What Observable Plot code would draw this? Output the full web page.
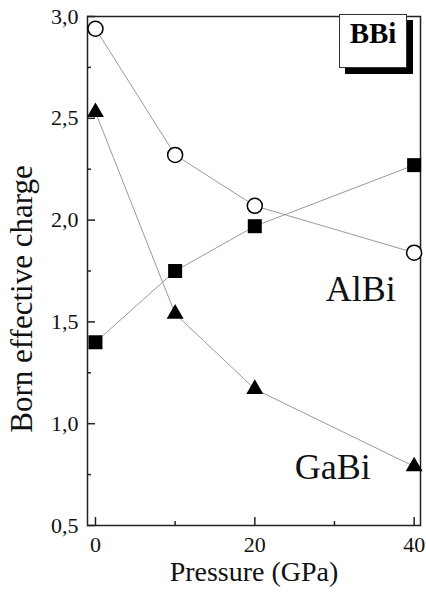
<!DOCTYPE html>
<html><head><meta charset="utf-8">
<script src="https://cdn.jsdelivr.net/npm/d3@7"></script>
<script src="https://cdn.jsdelivr.net/npm/@observablehq/plot@0.6"></script>
<style>
html,body{margin:0;padding:0;background:#fff;}
#wrap{position:relative;width:426px;height:592px;}
#badge{position:absolute;left:339px;top:14px;width:66px;height:50px;padding-top:2px;border:1px solid #333;background:#fff;box-shadow:6px 6px 0 #000;font:bold 29px "Liberation Serif","Times New Roman",serif;text-align:center;line-height:32px;color:#000;}
</style></head><body><div id="wrap"></div>
<script>
const pressure = [0, 10, 20, 40];
const circleValues = [2.94, 2.32, 2.07, 1.84];
const squareValues = [1.40, 1.75, 1.97, 2.27];
const triangleValues = [2.53, 1.54, 1.17, 0.79];
const yMajorTicks = [0.5, 1.0, 1.5, 2.0, 2.5, 3.0];
const yMinorTicks = [0.75, 1.25, 1.75, 2.25, 2.75];
const xMajorTicks = [0, 20, 40];
const xMinorTicks = [10, 30];
const labelText = ["AlBi", "GaBi"];
const labelX = [33.3, 29.8];
const labelY = [1.66, 0.787];
const xTitle = "Pressure (GPa)";
const yTitle = "Born effective charge";
const badgeText = "BBi";

const serif = '"Liberation Serif","Times New Roman",serif';
const series = [
  {name: "circle", values: circleValues},
  {name: "square", values: squareValues},
  {name: "triangle", values: triangleValues}
];
const rows = series.flatMap(s => pressure.map((p, i) => ({series: s.name, p, v: s.values[i]})));
const labels = labelText.map((t, i) => ({t, x: labelX[i], y: labelY[i]}));
const fmt = d => d.toFixed(1).replace(".", ",");
const ink = "#222";

const chart = Plot.plot({
  width: 426, height: 592,
  marginLeft: 87, marginRight: 6, marginTop: 16, marginBottom: 67,
  style: {fontFamily: serif, background: "#fff", color: "#000"},
  x: {domain: [-1, 40.8]},
  y: {domain: [0.5, 3.0]},
  marks: [
    Plot.axisY({ticks: yMajorTicks, tickSize: 8, dx: 8, fill: "none", stroke: ink, strokeWidth: 1.5, label: null}),
    Plot.axisY({ticks: yMinorTicks, tickSize: 4, dx: 4, fill: "none", stroke: ink, strokeWidth: 1.5, label: null}),
    Plot.axisX({ticks: xMajorTicks, tickSize: 8, dy: -8, fill: "none", stroke: ink, strokeWidth: 1.5, label: null}),
    Plot.axisX({ticks: xMinorTicks, tickSize: 4, dy: -4, fill: "none", stroke: ink, strokeWidth: 1.5, label: null}),
    Plot.axisY({ticks: yMajorTicks, tickSize: 0, tickPadding: 9, tickFormat: fmt, fontSize: 22, fontFamily: serif, fill: "#111", label: null}),
    Plot.axisX({ticks: xMajorTicks, tickSize: 0, tickPadding: 11, tickFormat: d => String(d), fontSize: 22, fontFamily: serif, fill: "#111", label: null}),
    Plot.frame({stroke: ink, strokeWidth: 1.5}),
    Plot.line(rows, {x: "p", y: "v", z: "series", stroke: "#9a9a9a", strokeWidth: 1}),
    Plot.dot(rows.filter(d => d.series === "circle"), {x: "p", y: "v", r: 7.5, symbol: "circle", fill: "#fff", stroke: "#000", strokeWidth: 1.5}),
    Plot.dot(rows.filter(d => d.series === "square"), {x: "p", y: "v", r: 7.9, symbol: "square", fill: "#000", stroke: "none"}),
    Plot.dot(rows.filter(d => d.series === "triangle"), {x: "p", y: "v", r: 6.3, symbol: "triangle", fill: "#000", stroke: "none"}),
    Plot.text(labels, {x: "x", y: "y", text: "t", fontSize: 36, fontFamily: serif, fill: "#111"}),
    Plot.text([xTitle], {frameAnchor: "bottom", dy: 55, textAnchor: "middle", text: d => d, fontSize: 28, fontFamily: serif, fill: "#111"}),
    Plot.text([yTitle], {frameAnchor: "left", dx: -65, dy: 28, rotate: -90, textAnchor: "middle", text: d => d, fontSize: 31, fontFamily: serif, fill: "#111"})
  ]
});
const wrap = document.getElementById("wrap");
wrap.appendChild(chart);
const badge = document.createElement("div");
badge.id = "badge";
badge.textContent = badgeText;
wrap.appendChild(badge);
</script>
</body></html>
